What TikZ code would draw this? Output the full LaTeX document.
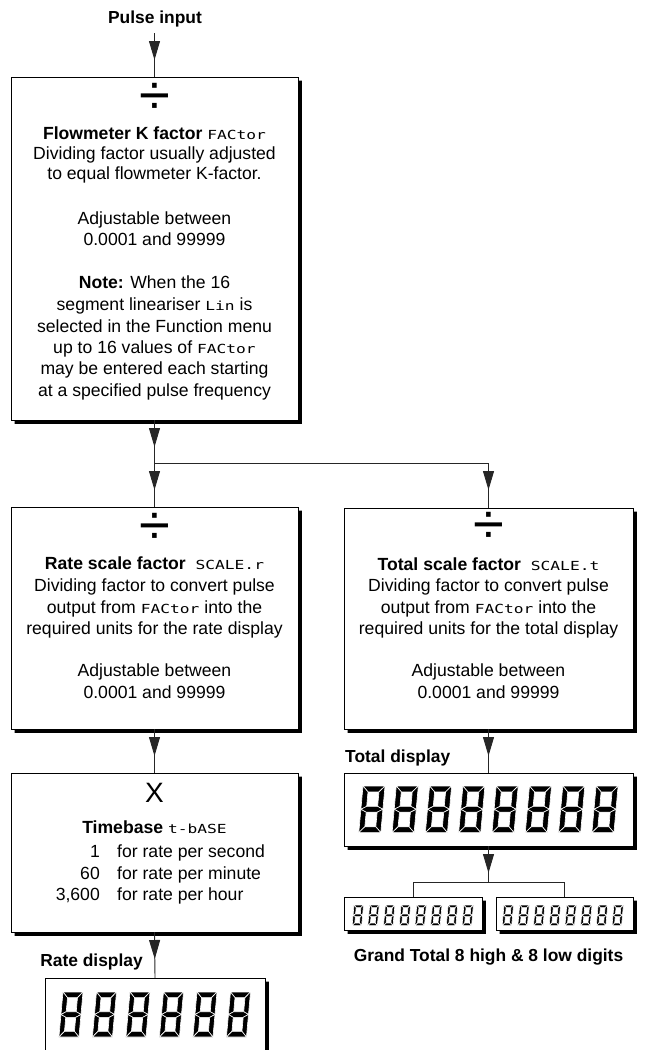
\documentclass[tikz,border=0pt]{standalone}
\usepackage{graphicx}
\usepackage{fontspec}
\setmainfont{Liberation Sans}
\newfontfamily\lcdfont{DejaVu Sans Mono}
\usetikzlibrary{arrows.meta,decorations.markings,calc}

\newcommand{\lcd}[1]{\scalebox{1.3}[1]{\lcdfont\fontsize{12.5}{12.5}\selectfont #1}}

% one seven-segment "8": top-left x, top y, unit width, half height
\newcommand{\segdigit}[4]{%
  \begin{scope}[shift={(#1,#2)}, xslant=0.09, x=#3pt, y=-#4pt]
    \def\segT{0.25}
    \filldraw[segfill] (0,0) -- (1,0) -- (1-\segT,\segT) -- (\segT,\segT) -- cycle;
    \filldraw[segfill] (0,0) -- (\segT,\segT) -- (\segT,1-\segT/2) -- (0,1) -- cycle;
    \filldraw[segfill] (1,0) -- (1-\segT,\segT) -- (1-\segT,1-\segT/2) -- (1,1) -- cycle;
    \filldraw[segfill] (0,1) -- (\segT,1-\segT/2) -- (1-\segT,1-\segT/2) -- (1,1) -- (1-\segT,1+\segT/2) -- (\segT,1+\segT/2) -- cycle;
    \filldraw[segfill] (0,1) -- (\segT,1+\segT/2) -- (\segT,2-\segT) -- (0,2) -- cycle;
    \filldraw[segfill] (1,1) -- (1-\segT,1+\segT/2) -- (1-\segT,2-\segT) -- (1,2) -- cycle;
    \filldraw[segfill] (0,2) -- (\segT,2-\segT) -- (1-\segT,2-\segT) -- (1,2) -- cycle;
  \end{scope}}
% a row of digits: count, x0, y0, pitch, W, H
\newcommand{\digitrow}[6]{%
  \foreach \di in {1,...,#1} {%
    \pgfmathsetmacro{\dx}{#2+\di*#4-#4}%
    \segdigit{\dx}{#3}{#5}{#6}}}
% box with a solid drop shadow strip: name, x, y (top-left), width, height
\newcommand{\shadowedbox}[5]{%
  \node[box, minimum width=#4pt, minimum height=#5pt] (#1) at (#2,#3) {};
  \fill[shadowfill] ($(#1.north east)+(0.4,3.6)$) -- ($(#1.north east)+(3.8,3.6)$)
     -- ($(#1.south east)+(3.8,3.8)$) -- ($(#1.south west)+(3.6,3.8)$)
     -- ($(#1.south west)+(3.6,0.4)$) -- ($(#1.south east)+(0.4,0.4)$) -- cycle;}

\tikzset{
  box/.style={draw=black, line width=0.9pt, fill=white, inner sep=0pt, outer sep=0pt, anchor=north west},
  shadowfill/.style={fill=black},
  segfill/.style={fill=black, draw=white, line width=0.6pt, line join=miter},
  txt/.style={font=\fontsize{17.6}{20}\selectfont, inner sep=0pt, anchor=base},
  btxt/.style={txt, font=\fontsize{17.4}{20}\selectfont\bfseries},
  sym/.style={font=\fontsize{56}{56}\selectfont, inner sep=0pt, anchor=center},
  conn/.style={draw=black!85, line width=0.9pt},
  flow/.style={conn, postaction={decorate}, decoration={markings,
    mark=at position 27pt with {\arrow{Triangle[length=19pt,width=11pt]}}}},
}

\begin{document}
\begin{tikzpicture}[x=1pt, y=-1pt]
\useasboundingbox (0,0) rectangle (651,1050);
\clip (0,0) rectangle (651,1050);

% boxes
\shadowedbox{kbox}{11}{77}{287}{343}
\shadowedbox{rbox}{11}{507}{287}{222}
\shadowedbox{tbox}{344}{508}{289}{221}
\shadowedbox{tbbox}{11}{773}{287}{159}
\shadowedbox{rdisp}{45}{978}{220}{120}
\shadowedbox{tdisp}{344}{773}{289}{73}
\shadowedbox{gl}{344}{897}{138}{33}
\shadowedbox{gr}{496}{897}{137}{33}

% connectors
\node[btxt] (pulse) at (155,23) {Pulse input};
\coordinate (pin) at (154.5,33);
\coordinate (split) at (154.5,463);
\coordinate (splitR) at (split -| tbox.north);
\coordinate (gts) at (488.5,882);
\draw[flow] (pin) -- (kbox.north);
\draw[flow] (kbox.south) -- (split);
\draw[flow] (split) -- (rbox.north);
\draw[conn] (split) -- (splitR);
\draw[flow] (splitR) -- (tbox.north);
\draw[flow] (rbox.south) -- (tbbox.north);
\draw[flow] (tbbox.south) -- (rdisp.north);
\draw[flow] (tbox.south) -- (tdisp.north);
\draw[flow] (tdisp.south) -- (gts);
\draw[conn] (gl.north) |- (gts) -| (gr.north);

% box 1
\node[sym] (kdiv) at (154.5,99) {÷};
\node[txt] (k1) at (154.5,139) {\textbf{Flowmeter K factor}\ \lcd{FACtor}};
\node[txt] (k2) at (154.5,159) {Dividing factor usually adjusted};
\node[txt] (k3) at (154.5,179) {to equal flowmeter K-factor.};
\node[txt] (k4) at (154.5,224) {Adjustable between};
\node[txt] (k5) at (154.5,245) {0.0001 and 99999};
\node[txt] (k6) at (154.5,288) {\textbf{Note:} When the 16};
\node[txt] (k7) at (154.5,310) {segment lineariser \lcd{Lin} is};
\node[txt] (k8) at (154.5,332) {selected in the Function menu};
\node[txt] (k9) at (154.5,353) {up to 16 values of \lcd{FACtor}};
\node[txt] (k10) at (154.5,374) {may be entered each starting};
\node[txt] (k11) at (154.5,396) {at a specified pulse frequency};

% box 2
\node[sym] (rdiv) at (154.5,529) {÷};
\node[txt] (r1) at (154.5,569) {\textbf{Rate scale factor}\ \ \lcd{SCALE.r}};
\node[txt] (r2) at (154.5,591) {Dividing factor to convert pulse};
\node[txt] (r3) at (154.5,613) {output from \lcd{FACtor} into the};
\node[txt] (r4) at (154.5,634) {required units for the rate display};
\node[txt] (r5) at (154.5,676) {Adjustable between};
\node[txt] (r6) at (154.5,698) {0.0001 and 99999};

% box 3
\node[sym] (tdiv) at (488.5,528) {÷};
\node[txt] (t1) at (488.5,570) {\textbf{Total scale factor}\ \ \lcd{SCALE.t}};
\node[txt] (t2) at (488.5,591) {Dividing factor to convert pulse};
\node[txt] (t3) at (488.5,613) {output from \lcd{FACtor} into the};
\node[txt] (t4) at (488.5,634) {required units for the total display};
\node[txt] (t5) at (488.5,676) {Adjustable between};
\node[txt] (t6) at (488.5,698) {0.0001 and 99999};

% box 4
\node[font=\fontsize{28}{28}\selectfont, inner sep=0pt] (tbx) at (154.5,793) {X};
\node[txt] (b1) at (154.5,833) {\textbf{Timebase}\ \lcd{t-bASE}};
\node[txt, anchor=base east] (b2n) at (100,857) {1};
\node[txt, anchor=base west] (b2t) at (117,857) {for rate per second};
\node[txt, anchor=base east] (b3n) at (100,879) {60};
\node[txt, anchor=base west] (b3t) at (117,879) {for rate per minute};
\node[txt, anchor=base east] (b4n) at (100,900) {3,600};
\node[txt, anchor=base west] (b4t) at (117,900) {for rate per hour};

% labels
\node[btxt, anchor=base east] (rdlab) at (143,966) {Rate display};
\node[btxt, anchor=base west] (tdlab) at (345,762) {Total display};
\node[btxt] (gtlab) at (488.5,961) {Grand Total 8 high \& 8 low digits};

% digits
\digitrow{6}{63}{992}{33.5}{20}{22.5}
\digitrow{8}{363}{786}{33.3}{22}{23.3}
\digitrow{8}{354}{905}{15.7}{9.5}{10.3}
\digitrow{8}{504}{905}{15.7}{9.5}{10.3}
\end{tikzpicture}
\end{document}
